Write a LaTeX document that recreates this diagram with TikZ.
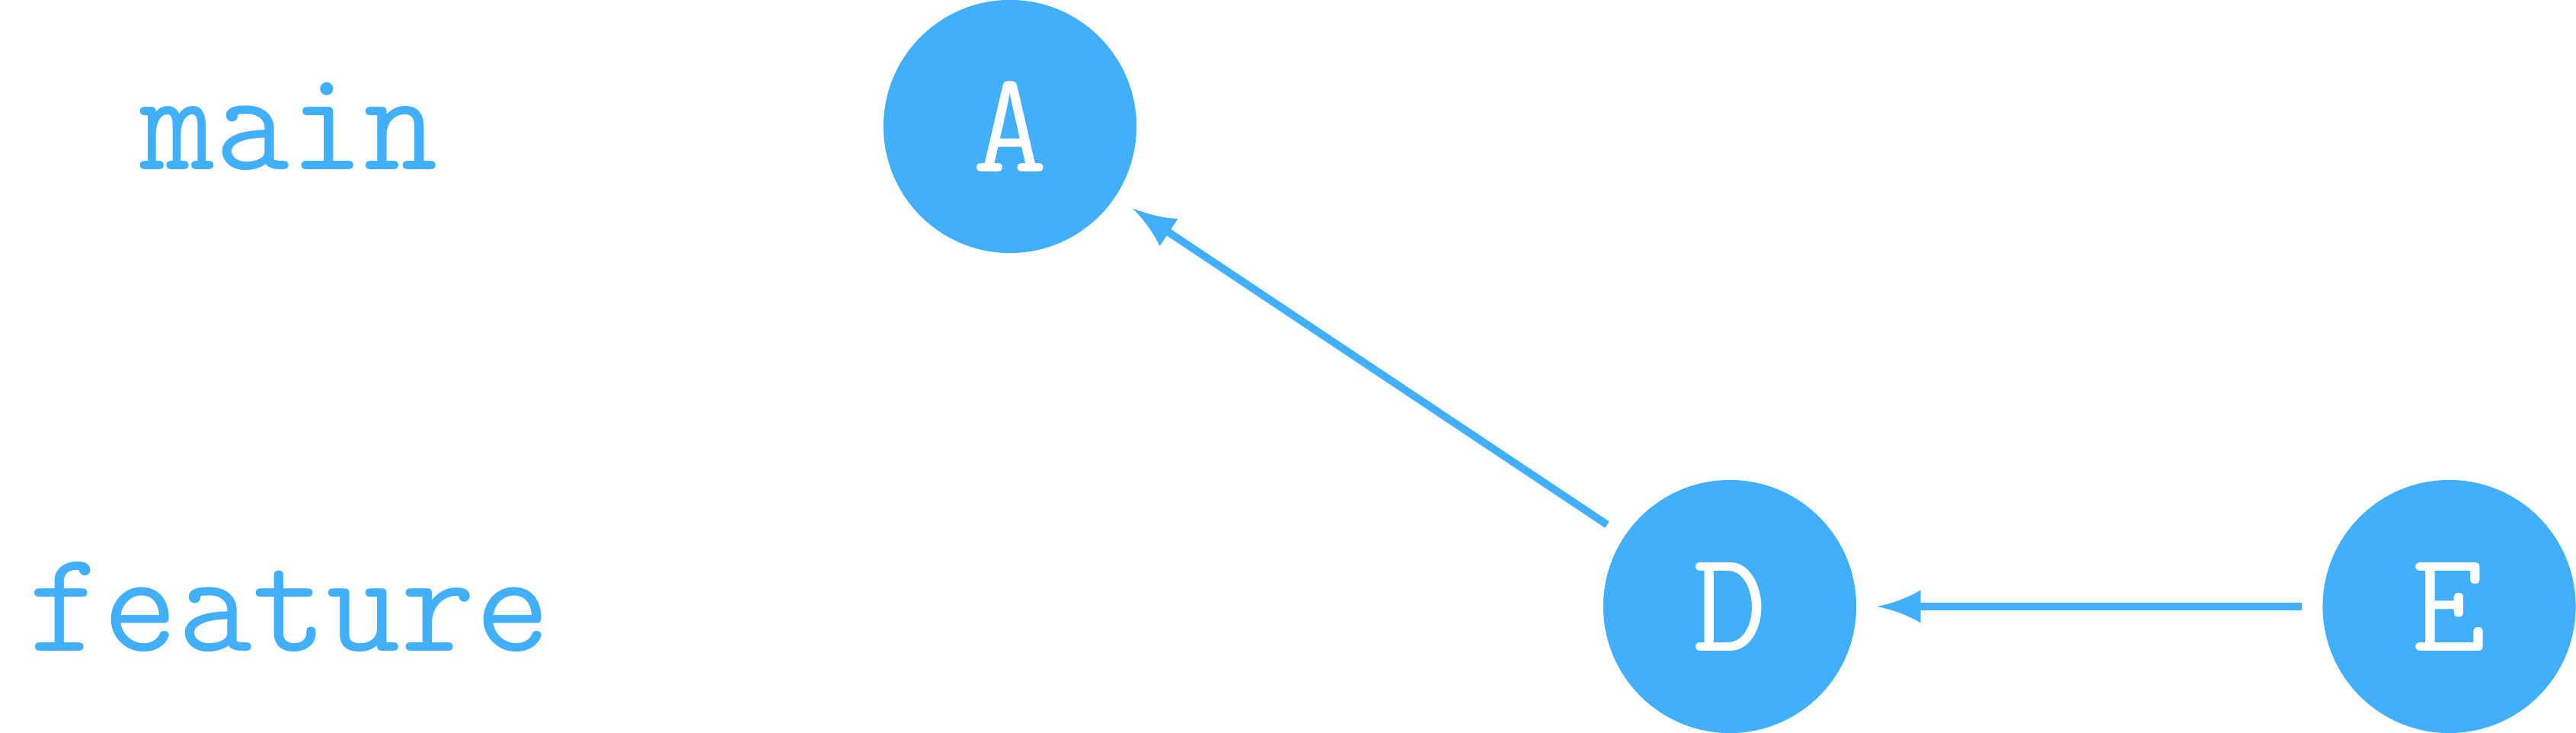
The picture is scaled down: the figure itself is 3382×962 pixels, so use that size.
\documentclass[tikz,border=0pt]{standalone}
\usetikzlibrary{arrows.meta}
\definecolor{gblue}{RGB}{66,175,250}
\pgfdeclarearrow{
  name = Concave,
  parameters = {\the\pgfarrowlength,\the\pgfarrowwidth},
  setup code = {
    \pgfarrowssettipend{0pt}
    \pgfarrowssetbackend{-\pgfarrowlength}
    \pgfarrowssetlineend{-.95\pgfarrowlength}
    \pgfarrowssavethe\pgfarrowlength
    \pgfarrowssavethe\pgfarrowwidth
  },
  drawing code = {
    \pgfpathmoveto{\pgfqpoint{0pt}{0pt}}
    \pgfpathcurveto{\pgfpoint{-.4\pgfarrowlength}{.11\pgfarrowwidth}}{\pgfpoint{-.75\pgfarrowlength}{.3\pgfarrowwidth}}{\pgfpoint{-\pgfarrowlength}{.5\pgfarrowwidth}}
    \pgfpathlineto{\pgfpoint{-\pgfarrowlength}{-.5\pgfarrowwidth}}
    \pgfpathcurveto{\pgfpoint{-.75\pgfarrowlength}{-.3\pgfarrowwidth}}{\pgfpoint{-.4\pgfarrowlength}{-.11\pgfarrowwidth}}{\pgfqpoint{0pt}{0pt}}
    \pgfpathclose
    \pgfusepathqfill
  },
  defaults = {length=5pt, width=4pt}
}
\begin{document}
\begin{tikzpicture}[x=0.01cm,y=-0.01cm,
  commit/.style={circle,fill=gblue,draw=none,minimum size=3.32cm,inner sep=0pt,outer sep=0.275cm,text=white,font=\fontsize{54}{60}\selectfont\ttfamily},
  branchlabel/.style={text=gblue,inner sep=0pt,font=\fontsize{54}{60}\selectfont\ttfamily},
  link/.style={draw=gblue,line width=0.1cm,-{Concave[length=0.57cm,width=0.43cm]}}]
\useasboundingbox (0,0) rectangle (3382,962);
\node[commit] (A) at (1326,166) {A};
\node[commit] (D) at (2271,796) {D};
\node[commit] (E) at (3215.5,796) {E};
\node[branchlabel] (main) at (380,166) {main};
\node[branchlabel] (feature) at (380,796) {feature};
\draw[link] (D) -- (A);
\draw[link] (E) -- (D);
\end{tikzpicture}
\end{document}
